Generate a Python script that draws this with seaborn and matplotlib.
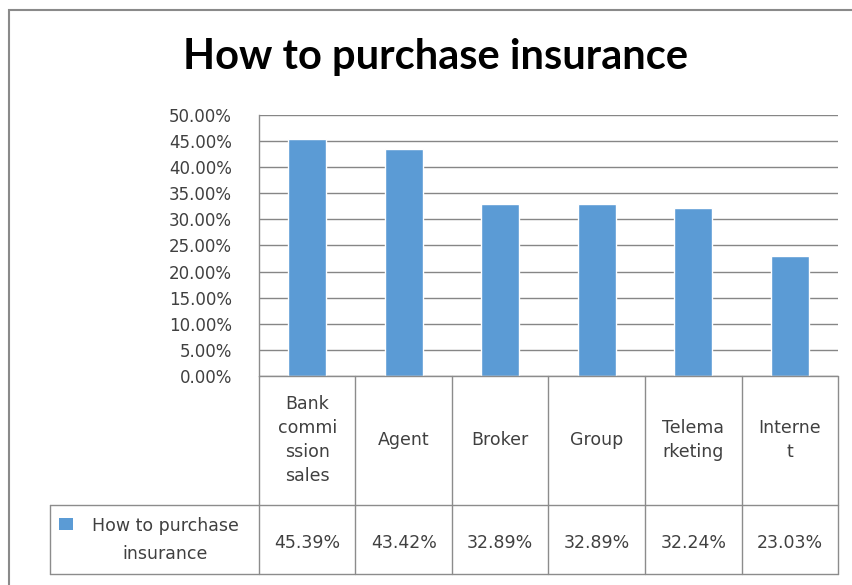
import matplotlib
matplotlib.use('Agg')
import matplotlib.pyplot as plt
import seaborn as sns
import pandas as pd
from matplotlib.ticker import PercentFormatter, MultipleLocator
from matplotlib.lines import Line2D
from matplotlib.patches import Rectangle

# Данные графика
categories = ['Bank commission sales', 'Agent', 'Broker', 'Group', 'Telemarketing', 'Internet']
header_labels = ['Bank\ncommi\nssion\nsales', 'Agent', 'Broker', 'Group', 'Telema\nrketing', 'Interne\nt']
values = [0.4539, 0.4342, 0.3289, 0.3289, 0.3224, 0.2303]
series_name = 'How to purchase\ninsurance'
title = 'How to purchase insurance'

df = pd.DataFrame({'category': categories, 'share': values})

sns.set_style('white')
plt.rcParams['font.family'] = ['DejaVu Sans']

W, H = 853, 585
fig = plt.figure(figsize=(W / 100, H / 100), dpi=100)

bar_color = '#5B9BD5'
line_color = '#8C8C8C'
text_color = '#404040'
fs = 12.5

# область построения (в пикселях)
x0, x1 = 259, 838
y_top, y_bot = 115, 376
ax = fig.add_axes([x0 / W, 1 - y_bot / H, (x1 - x0) / W, (y_bot - y_top) / H])

sns.barplot(data=df, x='category', y='share', color=bar_color, width=0.39,
            saturation=1, ax=ax)
ax.set_ylim(0, 0.5)
ax.set_xlim(-0.5, len(categories) - 0.5)
ax.yaxis.set_major_locator(MultipleLocator(0.05))
ax.yaxis.set_major_formatter(PercentFormatter(1.0, decimals=2))
ax.set_xlabel('')
ax.set_ylabel('')
ax.set_xticks([])
ax.tick_params(axis='y', length=0, pad=19.5, labelsize=12, labelcolor=text_color)
ax.grid(axis='y', color='#868686', linewidth=1)
ax.set_axisbelow(True)
for s in ['top', 'right', 'bottom']:
    ax.spines[s].set_visible(False)
ax.spines['left'].set_color(line_color)
ax.spines['left'].set_linewidth(1)

# заголовок
fig.text(436 / W, 1 - 57 / H, title, ha='center', va='center',
         fontsize=30, fontweight='bold', color='black',
         family=['Lato', 'DejaVu Sans'])

# рамка диаграммы
fig.patches.append(Rectangle((8.5 / W, -0.1), 1.5, 1 - 10 / H + 0.1,
                             transform=fig.transFigure, fill=False,
                             edgecolor='#8A8A8A', linewidth=1.5))

# таблица данных
col_edges = [x0 + i * (x1 - x0) / len(categories) for i in range(len(categories) + 1)]
row_header_bot = 505
row_val_bot = 574
legend_left = 50


def hline(xa, xb, y):
    fig.lines.append(Line2D([xa / W, xb / W], [1 - y / H, 1 - y / H],
                            transform=fig.transFigure, color=line_color, linewidth=1))


def vline(x, ya, yb):
    fig.lines.append(Line2D([x / W, x / W], [1 - ya / H, 1 - yb / H],
                            transform=fig.transFigure, color=line_color, linewidth=1))


hline(x0, x1, y_bot)
hline(legend_left, x1, row_header_bot)
hline(legend_left, x1, row_val_bot)
for xe in col_edges:
    vline(xe, y_bot, row_val_bot)
vline(legend_left, row_header_bot, row_val_bot)

for i, lab in enumerate(header_labels):
    cx = (col_edges[i] + col_edges[i + 1]) / 2
    fig.text(cx / W, 1 - 440 / H, lab, ha='center', va='center',
             fontsize=fs, color=text_color, linespacing=1.45)
    fig.text(cx / W, 1 - 543 / H, f'{values[i]:.2%}',
             ha='center', va='center', fontsize=fs, color=text_color)

# легенда в таблице
fig.patches.append(Rectangle((59 / W, 1 - 530 / H), 14 / W, 12 / H,
                             transform=fig.transFigure, facecolor=bar_color, edgecolor='none'))
fig.text(165 / W, 1 - 540 / H, series_name, ha='center', va='center',
         fontsize=fs, color=text_color, linespacing=1.75)

fig.savefig('out.png', dpi=100)
